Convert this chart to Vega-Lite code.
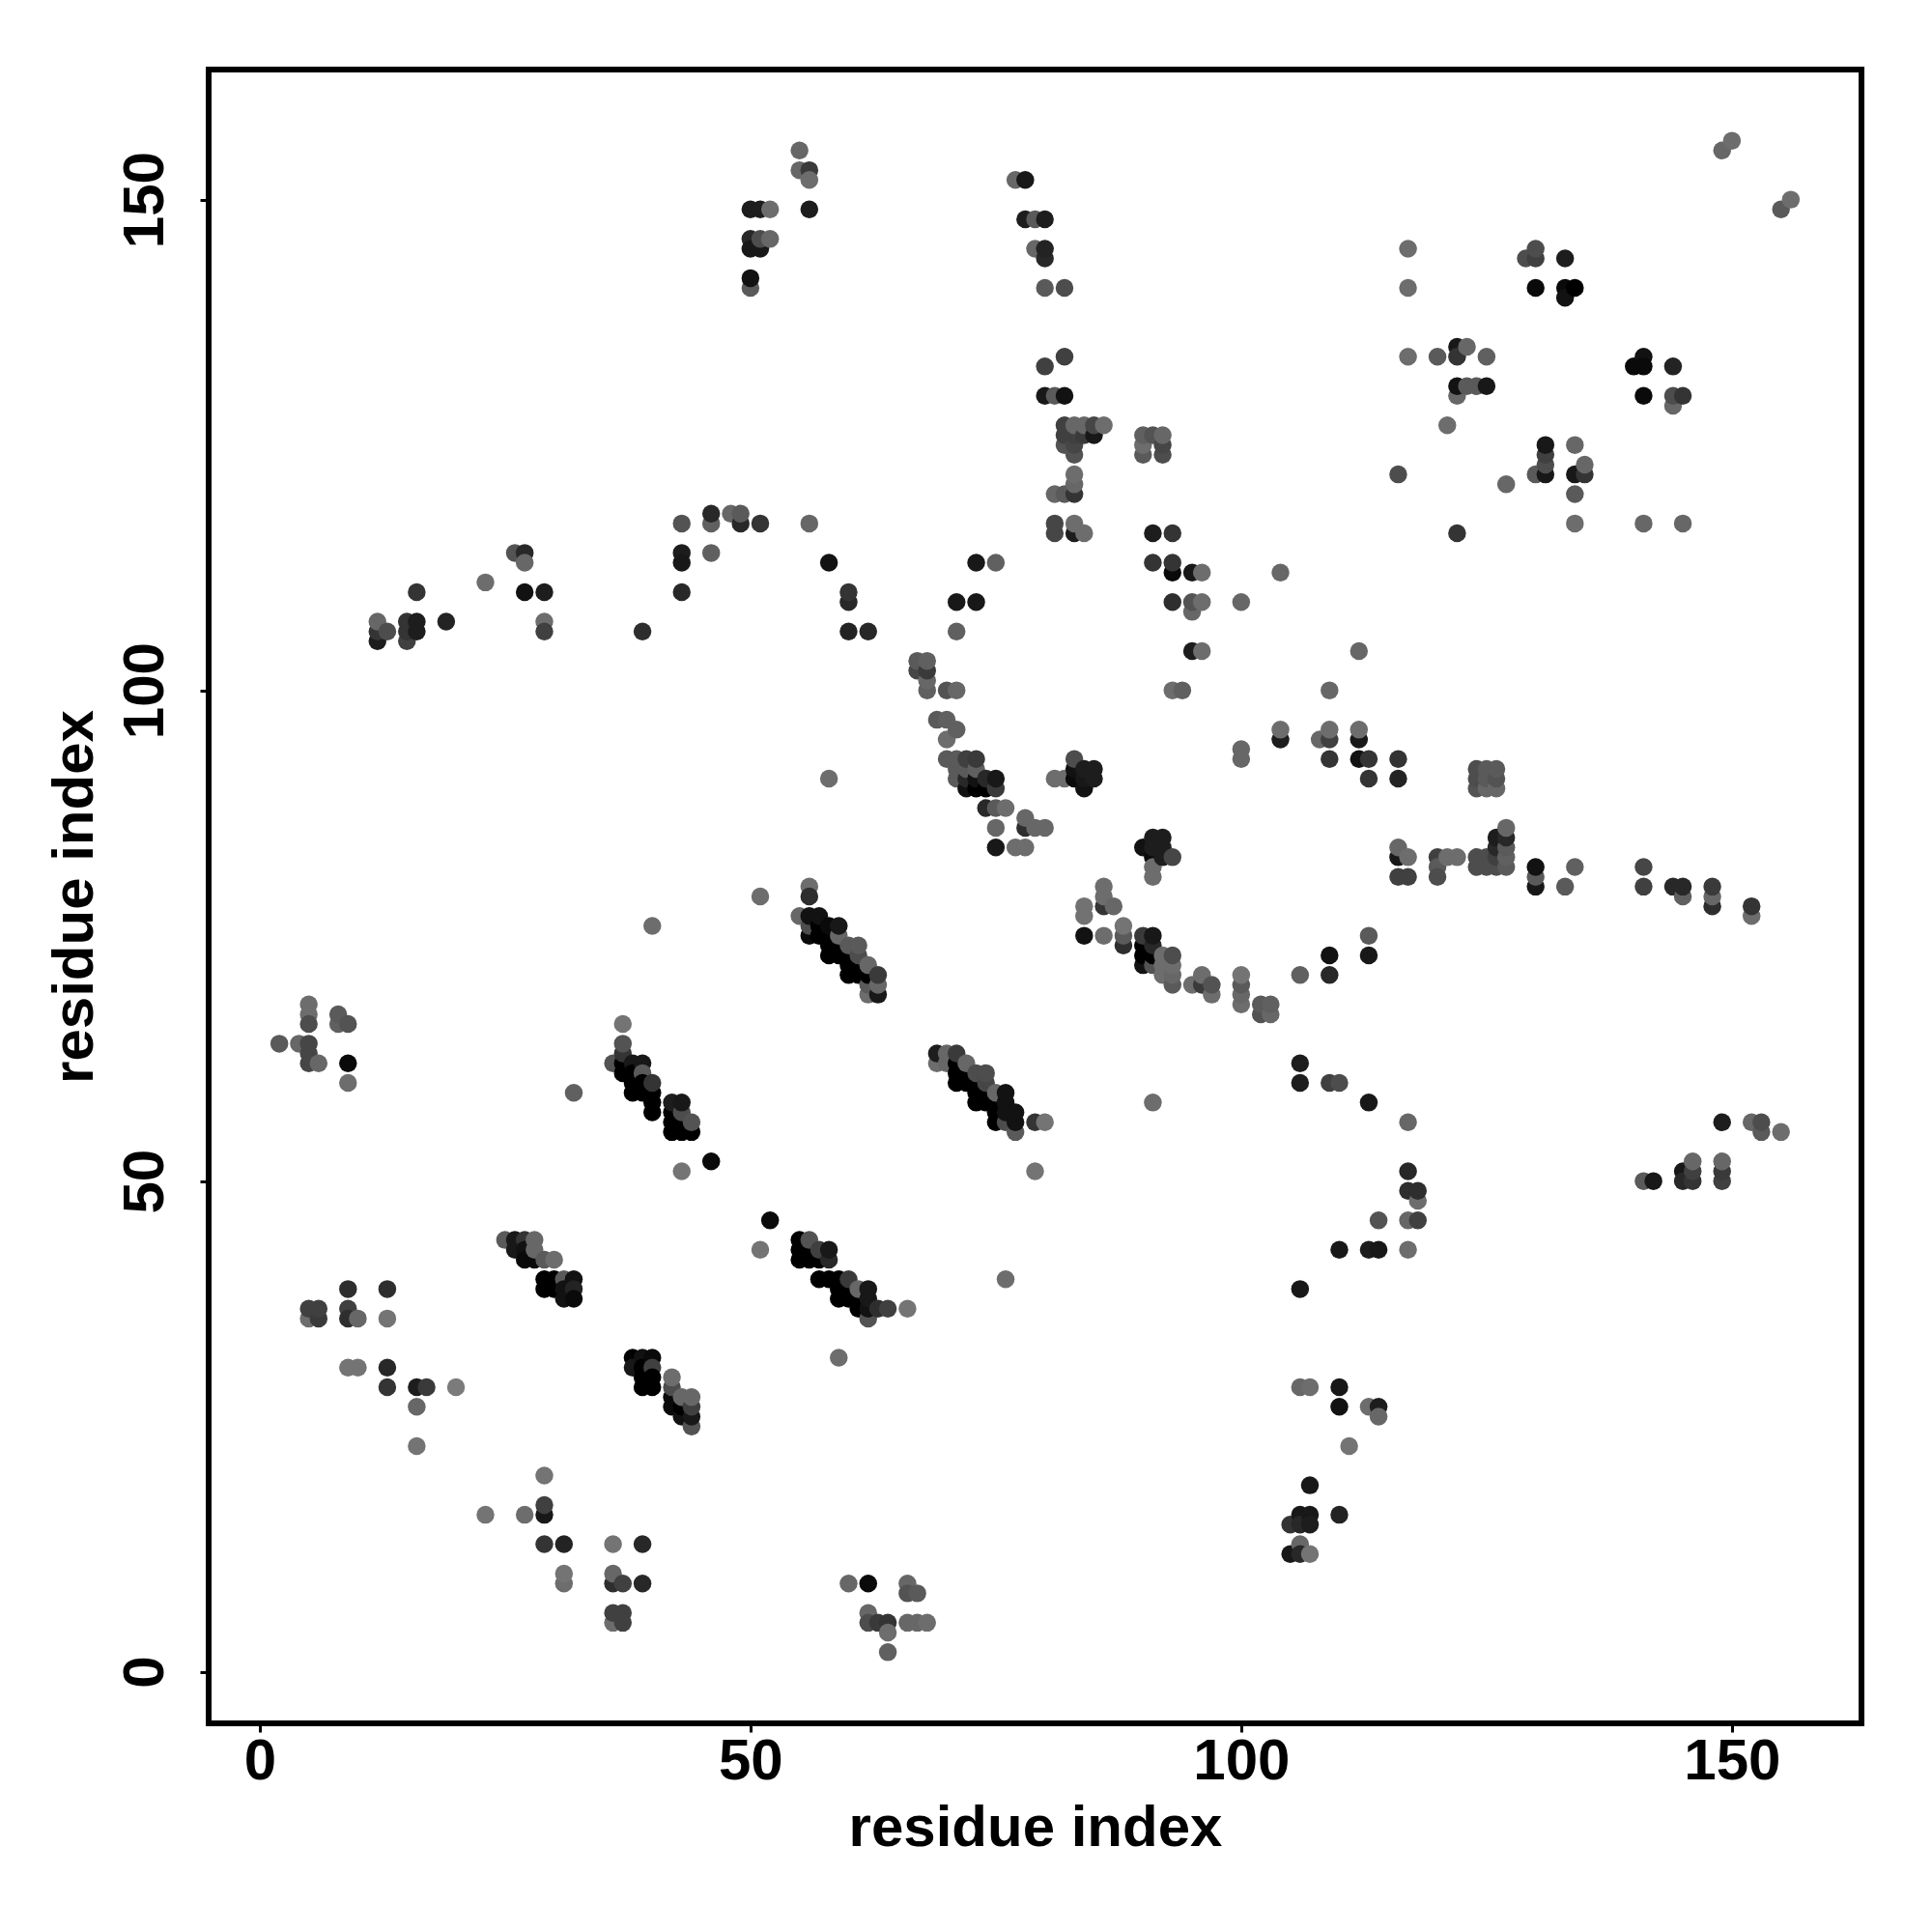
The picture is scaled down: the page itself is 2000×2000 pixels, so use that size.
{"$schema":"https://vega.github.io/schema/vega-lite/v6.json","width":1711,"height":1712,"autosize":{"type":"none"},"padding":{"left":216,"top":72,"right":73,"bottom":216},"background":"white","view":{"stroke":"black","strokeWidth":6,"fill":"white"},
"data":{"values":[
{"x":9,"y":39,"p":0.65},{"x":13,"y":39,"p":0.65},{"x":5,"y":36,"p":0.15},{"x":5,"y":37,"p":0.5},{"x":6,"y":36,"p":0.55},{"x":6,"y":37,"p":0.5},{"x":9,"y":37,"p":0.5},{"x":9,"y":36,"p":0.65},{"x":10,"y":36,"p":0.2},{"x":13,"y":36,"p":0.1},{"x":9,"y":31,"p":0.1},{"x":10,"y":31,"p":0.1},{"x":13,"y":31,"p":0.7},{"x":13,"y":29,"p":0.6},{"x":16,"y":29,"p":0.8},{"x":17,"y":29,"p":0.55},{"x":20,"y":29,"p":0.05},{"x":16,"y":27,"p":0.2},{"x":16,"y":23,"p":0.1},
{"x":25,"y":44,"p":0.3},{"x":26,"y":44,"p":0.85},{"x":26,"y":43,"p":0.85},{"x":27,"y":44,"p":0.6},{"x":27,"y":43,"p":0.9},{"x":27,"y":42,"p":0.95},{"x":28,"y":42,"p":0.95},{"x":28,"y":43,"p":0.2},{"x":28,"y":44,"p":0.2},{"x":29,"y":42,"p":0.3},{"x":30,"y":42,"p":0.15},
{"x":29,"y":40,"p":1},{"x":30,"y":40,"p":1},{"x":31,"y":40,"p":0.3},{"x":32,"y":40,"p":0.9},{"x":29,"y":39,"p":1},{"x":30,"y":39,"p":1},{"x":31,"y":39,"p":0.9},{"x":32,"y":39,"p":0.75},{"x":31,"y":38,"p":0.9},{"x":32,"y":38,"p":0.95},
{"x":38,"y":32,"p":1},{"x":39,"y":32,"p":0.9},{"x":40,"y":32,"p":0.95},{"x":38,"y":31,"p":0.85},{"x":39,"y":31,"p":1},{"x":40,"y":31,"p":0.5},{"x":39,"y":30,"p":1},{"x":40,"y":30,"p":1},{"x":39,"y":29,"p":1},{"x":40,"y":29,"p":1},
{"x":42,"y":27,"p":0.95},{"x":42,"y":28,"p":0.95},{"x":42,"y":29,"p":0.4},{"x":42,"y":30,"p":0.15},{"x":43,"y":26,"p":0.9},{"x":43,"y":27,"p":1},{"x":43,"y":28,"p":0.2},{"x":44,"y":25,"p":0.35},{"x":44,"y":26,"p":0.85},{"x":44,"y":27,"p":0.5},{"x":44,"y":28,"p":0.2},
{"x":29,"y":20,"p":0.1},{"x":29,"y":16,"p":0.85},{"x":29,"y":17,"p":0.5},{"x":23,"y":16,"p":0.1},{"x":27,"y":16,"p":0.15},{"x":29,"y":13,"p":0.6},{"x":31,"y":13,"p":0.75},{"x":36,"y":13,"p":0.1},{"x":39,"y":13,"p":0.7},{"x":31,"y":9,"p":0.15},{"x":31,"y":10,"p":0.1},{"x":36,"y":9,"p":0.65},{"x":36,"y":10,"p":0.2},{"x":37,"y":9,"p":0.5},{"x":39,"y":9,"p":0.7},{"x":36,"y":5,"p":0.15},{"x":36,"y":6,"p":0.5},{"x":37,"y":6,"p":0.5},{"x":37,"y":5,"p":0.5},
{"x":37,"y":66,"p":0.1},{"x":37,"y":61,"p":1},{"x":37,"y":62,"p":1},{"x":37,"y":63,"p":0.6},{"x":37,"y":64,"p":0.35},{"x":36,"y":62,"p":0.35},{"x":38,"y":62,"p":0.85},{"x":39,"y":62,"p":0.85},{"x":39,"y":61,"p":0.3},{"x":38,"y":61,"p":1},{"x":38,"y":60,"p":1},{"x":38,"y":59,"p":1},{"x":39,"y":60,"p":1},{"x":39,"y":59,"p":1},{"x":40,"y":57,"p":1},{"x":40,"y":58,"p":1},{"x":40,"y":59,"p":1},{"x":40,"y":60,"p":0.6},{"x":32,"y":59,"p":0.25},
{"x":42,"y":55,"p":1},{"x":42,"y":56,"p":1},{"x":42,"y":57,"p":1},{"x":42,"y":58,"p":0.8},{"x":43,"y":55,"p":1},{"x":43,"y":56,"p":1},{"x":43,"y":57,"p":0.4},{"x":43,"y":58,"p":0.85},{"x":44,"y":55,"p":1},{"x":44,"y":56,"p":0.35},{"x":46,"y":52,"p":0.95},{"x":43,"y":51,"p":0.1},{"x":52,"y":46,"p":0.95},{"x":51,"y":43,"p":0.1},
{"x":55,"y":42,"p":1},{"x":55,"y":43,"p":1},{"x":55,"y":44,"p":1},{"x":56,"y":42,"p":1},{"x":56,"y":43,"p":1},{"x":56,"y":44,"p":0.35},{"x":57,"y":42,"p":1},{"x":57,"y":43,"p":0.5},{"x":58,"y":42,"p":0.7},{"x":58,"y":43,"p":0.85},
{"x":57,"y":40,"p":1},{"x":58,"y":40,"p":1},{"x":59,"y":38,"p":1},{"x":59,"y":39,"p":1},{"x":59,"y":40,"p":1},{"x":60,"y":38,"p":1},{"x":60,"y":39,"p":1},{"x":60,"y":40,"p":0.55},{"x":61,"y":37,"p":1},{"x":61,"y":38,"p":1},{"x":61,"y":39,"p":0.2},{"x":62,"y":36,"p":0.35},{"x":62,"y":37,"p":0.9},{"x":62,"y":38,"p":0.85},{"x":62,"y":39,"p":0.85},{"x":63,"y":37,"p":0.65},{"x":64,"y":37,"p":0.5},{"x":66,"y":37,"p":0.1},{"x":59,"y":32,"p":0.15},
{"x":58,"y":91,"p":0.15},{"x":51,"y":79,"p":0.15},{"x":56,"y":80,"p":0.15},{"x":56,"y":79,"p":0.65},{"x":55,"y":77,"p":0.2},{"x":56,"y":75,"p":0.95},{"x":56,"y":76,"p":0.4},{"x":56,"y":77,"p":0.9},{"x":57,"y":75,"p":1},{"x":57,"y":76,"p":1},{"x":57,"y":77,"p":0.9},{"x":58,"y":73,"p":1},{"x":58,"y":74,"p":1},{"x":58,"y":75,"p":1},{"x":58,"y":76,"p":0.95},{"x":59,"y":73,"p":1},{"x":59,"y":74,"p":1},{"x":59,"y":75,"p":0.2},{"x":59,"y":76,"p":0.85},{"x":60,"y":71,"p":1},{"x":60,"y":72,"p":1},{"x":60,"y":73,"p":1},{"x":60,"y":74,"p":0.3},{"x":61,"y":71,"p":1},{"x":61,"y":72,"p":1},{"x":61,"y":73,"p":0.4},{"x":61,"y":74,"p":0.3},{"x":62,"y":69,"p":0.15},{"x":62,"y":70,"p":0.3},{"x":62,"y":71,"p":1},{"x":62,"y":72,"p":0.2},{"x":63,"y":69,"p":0.85},{"x":63,"y":70,"p":0.2},{"x":63,"y":71,"p":0.55},
{"x":69,"y":62,"p":0.15},{"x":69,"y":63,"p":0.8},{"x":70,"y":62,"p":0.2},{"x":70,"y":63,"p":0.2},{"x":71,"y":60,"p":1},{"x":71,"y":61,"p":1},{"x":71,"y":62,"p":1},{"x":71,"y":63,"p":0.55},{"x":72,"y":60,"p":1},{"x":72,"y":61,"p":1},{"x":72,"y":62,"p":0.2},{"x":73,"y":58,"p":1},{"x":73,"y":59,"p":1},{"x":73,"y":60,"p":1},{"x":73,"y":61,"p":0.4},{"x":74,"y":58,"p":1},{"x":74,"y":59,"p":1},{"x":74,"y":60,"p":0.45},{"x":74,"y":61,"p":0.4},{"x":75,"y":56,"p":1},{"x":75,"y":57,"p":1},{"x":75,"y":58,"p":1},{"x":75,"y":59,"p":0.2},{"x":76,"y":56,"p":0.4},{"x":76,"y":57,"p":0.9},{"x":76,"y":58,"p":0.9},{"x":76,"y":59,"p":0.9},{"x":77,"y":55,"p":0.3},{"x":77,"y":56,"p":0.9},{"x":77,"y":57,"p":0.9},{"x":79,"y":56,"p":0.6},{"x":80,"y":56,"p":0.1},{"x":79,"y":51,"p":0.1},{"x":91,"y":58,"p":0.15},
{"x":84,"y":75,"p":0.9},{"x":86,"y":75,"p":0.15},{"x":84,"y":78,"p":0.12},{"x":84,"y":77,"p":0.12},{"x":86,"y":78,"p":0.6},{"x":86,"y":79,"p":0.15},{"x":86,"y":80,"p":0.15},{"x":87,"y":78,"p":0.2},{"x":88,"y":74,"p":0.65},{"x":88,"y":75,"p":0.3},{"x":88,"y":76,"p":0.1},
{"x":90,"y":72,"p":0.9},{"x":90,"y":73,"p":1},{"x":90,"y":74,"p":1},{"x":90,"y":75,"p":0.55},{"x":91,"y":72,"p":0.35},{"x":91,"y":73,"p":1},{"x":91,"y":74,"p":0.7},{"x":91,"y":75,"p":0.85},{"x":92,"y":71,"p":0.15},{"x":92,"y":72,"p":0.15},{"x":92,"y":73,"p":0.15},{"x":93,"y":70,"p":0.3},{"x":93,"y":71,"p":0.2},{"x":93,"y":72,"p":0.15},{"x":93,"y":73,"p":0.4},{"x":95,"y":70,"p":0.15},{"x":96,"y":70,"p":0.55},{"x":96,"y":71,"p":0.15},{"x":97,"y":69,"p":0.15},{"x":97,"y":70,"p":0.35},{"x":100,"y":68,"p":0.15},{"x":100,"y":69,"p":0.2},{"x":100,"y":70,"p":0.3},{"x":100,"y":71,"p":0.1},{"x":102,"y":67,"p":0.35},{"x":102,"y":68,"p":0.3},{"x":103,"y":67,"p":0.2},{"x":103,"y":68,"p":0.25},
{"x":72,"y":90,"p":0.9},{"x":73,"y":90,"p":1},{"x":74,"y":90,"p":1},{"x":75,"y":90,"p":0.55},{"x":74,"y":91,"p":0.7},{"x":75,"y":91,"p":0.85},{"x":73,"y":91,"p":0.9},{"x":72,"y":91,"p":0.7},{"x":71,"y":91,"p":0.3},{"x":74,"y":88,"p":0.7},{"x":75,"y":88,"p":0.3},{"x":76,"y":88,"p":0.15},{"x":75,"y":86,"p":0.2},{"x":78,"y":86,"p":0.65},{"x":78,"y":87,"p":0.2},{"x":79,"y":86,"p":0.2},{"x":80,"y":86,"p":0.2},{"x":75,"y":84,"p":0.85},{"x":77,"y":84,"p":0.15},{"x":78,"y":84,"p":0.15},
{"x":80,"y":130,"p":0.85},{"x":81,"y":130,"p":0.3},{"x":82,"y":130,"p":0.9},{"x":82,"y":125,"p":0.35},{"x":82,"y":126,"p":0.5},{"x":82,"y":127,"p":0.5},{"x":83,"y":124,"p":0.35},{"x":83,"y":125,"p":0.45},{"x":83,"y":126,"p":0.5},{"x":83,"y":127,"p":0.2},{"x":84,"y":126,"p":0.55},{"x":84,"y":127,"p":0.2},{"x":85,"y":126,"p":0.85},{"x":85,"y":127,"p":0.45},{"x":86,"y":127,"p":0.15},
{"x":83,"y":120,"p":0.6},{"x":83,"y":121,"p":0.2},{"x":83,"y":122,"p":0.15},{"x":81,"y":120,"p":0.2},{"x":82,"y":120,"p":0.3},{"x":81,"y":116,"p":0.45},{"x":81,"y":117,"p":0.45},{"x":83,"y":116,"p":0.8},{"x":83,"y":117,"p":0.15},{"x":84,"y":116,"p":0.15},
{"x":90,"y":124,"p":0.3},{"x":90,"y":125,"p":0.15},{"x":90,"y":126,"p":0.25},{"x":91,"y":126,"p":0.35},{"x":92,"y":124,"p":0.4},{"x":92,"y":125,"p":0.45},{"x":92,"y":126,"p":0.2},{"x":91,"y":116,"p":0.8},{"x":93,"y":116,"p":0.6},{"x":91,"y":113,"p":0.6},{"x":93,"y":112,"p":0.95},{"x":93,"y":113,"p":0.6},{"x":95,"y":112,"p":0.85},{"x":96,"y":112,"p":0.15},{"x":93,"y":109,"p":0.65},{"x":95,"y":108,"p":0.2},{"x":95,"y":109,"p":0.35},{"x":96,"y":109,"p":0.15},{"x":100,"y":109,"p":0.2},{"x":104,"y":112,"p":0.2},{"x":95,"y":104,"p":0.8},{"x":96,"y":104,"p":0.15},{"x":112,"y":104,"p":0.2},{"x":93,"y":100,"p":0.15},{"x":94,"y":100,"p":0.25},{"x":109,"y":100,"p":0.2},{"x":73,"y":113,"p":0.85},{"x":75,"y":113,"p":0.25},{"x":73,"y":109,"p":0.85},{"x":71,"y":109,"p":0.85},{"x":71,"y":106,"p":0.25},{"x":116,"y":122,"p":0.4},{"x":121,"y":127,"p":0.15},
{"x":100,"y":94,"p":0.2},{"x":100,"y":93,"p":0.2},{"x":104,"y":95,"p":0.8},{"x":104,"y":96,"p":0.15},{"x":108,"y":95,"p":0.2},{"x":109,"y":95,"p":0.5},{"x":109,"y":96,"p":0.15},{"x":112,"y":95,"p":0.85},{"x":112,"y":96,"p":0.15},{"x":109,"y":93,"p":0.6},{"x":112,"y":93,"p":0.9},{"x":113,"y":93,"p":0.6},{"x":116,"y":93,"p":0.6},{"x":113,"y":91,"p":0.6},{"x":116,"y":91,"p":0.75},
{"x":81,"y":91,"p":0.15},{"x":82,"y":91,"p":0.15},{"x":83,"y":91,"p":0.95},{"x":83,"y":92,"p":0.9},{"x":83,"y":93,"p":0.4},{"x":84,"y":90,"p":0.9},{"x":84,"y":91,"p":0.85},{"x":84,"y":92,"p":0.8},{"x":85,"y":91,"p":0.8},{"x":85,"y":92,"p":0.8},
{"x":90,"y":84,"p":0.9},{"x":91,"y":83,"p":0.95},{"x":91,"y":84,"p":0.8},{"x":91,"y":85,"p":0.8},{"x":92,"y":83,"p":0.8},{"x":92,"y":84,"p":0.8},{"x":92,"y":85,"p":0.8},{"x":93,"y":83,"p":0.45},{"x":91,"y":82,"p":0.15},{"x":91,"y":81,"p":0.15},
{"x":116,"y":81,"p":0.5},{"x":117,"y":81,"p":0.5},{"x":116,"y":83,"p":0.85},{"x":116,"y":84,"p":0.2},{"x":117,"y":83,"p":0.15},{"x":120,"y":83,"p":0.5},{"x":120,"y":82,"p":0.3},{"x":120,"y":81,"p":0.4},{"x":121,"y":83,"p":0.15},{"x":122,"y":83,"p":0.15},{"x":124,"y":83,"p":0.4},{"x":124,"y":82,"p":0.4},{"x":125,"y":83,"p":0.4},{"x":125,"y":82,"p":0.4},{"x":126,"y":82,"p":0.4},{"x":126,"y":83,"p":0.5},{"x":126,"y":84,"p":0.7},{"x":126,"y":85,"p":0.8},{"x":127,"y":82,"p":0.3},{"x":127,"y":83,"p":0.25},{"x":127,"y":84,"p":0.3},{"x":127,"y":85,"p":0.7},{"x":127,"y":86,"p":0.2},
{"x":130,"y":80,"p":0.85},{"x":130,"y":81,"p":0.3},{"x":130,"y":82,"p":0.9},{"x":133,"y":80,"p":0.3},{"x":134,"y":82,"p":0.25},{"x":141,"y":82,"p":0.45},{"x":141,"y":80,"p":0.5},{"x":144,"y":80,"p":0.7},{"x":145,"y":79,"p":0.25},{"x":145,"y":80,"p":0.7},{"x":148,"y":78,"p":0.65},{"x":148,"y":79,"p":0.2},{"x":148,"y":80,"p":0.55},{"x":152,"y":77,"p":0.15},{"x":152,"y":78,"p":0.6},
{"x":124,"y":90,"p":0.35},{"x":124,"y":91,"p":0.4},{"x":124,"y":92,"p":0.4},{"x":125,"y":90,"p":0.2},{"x":125,"y":91,"p":0.3},{"x":125,"y":92,"p":0.3},{"x":126,"y":90,"p":0.2},{"x":126,"y":91,"p":0.35},{"x":126,"y":92,"p":0.3},
{"x":2,"y":64,"p":0.3},{"x":4,"y":64,"p":0.2},{"x":5,"y":68,"p":0.15},{"x":5,"y":67,"p":0.15},{"x":5,"y":66,"p":0.4},{"x":5,"y":64,"p":0.45},{"x":5,"y":63,"p":0.45},{"x":5,"y":62,"p":0.45},{"x":6,"y":62,"p":0.2},{"x":8,"y":66,"p":0.25},{"x":8,"y":67,"p":0.3},{"x":9,"y":66,"p":0.35},{"x":9,"y":62,"p":0.95},{"x":9,"y":60,"p":0.15},
{"x":40,"y":76,"p":0.15},{"x":76,"y":40,"p":0.15},
{"x":60,"y":9,"p":0.2},{"x":62,"y":9,"p":0.95},{"x":66,"y":9,"p":0.2},{"x":66,"y":8,"p":0.35},{"x":67,"y":8,"p":0.3},{"x":62,"y":6,"p":0.2},{"x":62,"y":5,"p":0.4},{"x":63,"y":5,"p":0.55},{"x":64,"y":5,"p":0.6},{"x":64,"y":4,"p":0.15},{"x":64,"y":2,"p":0.25},{"x":66,"y":5,"p":0.2},{"x":67,"y":5,"p":0.2},{"x":68,"y":5,"p":0.15},
{"x":106,"y":39,"p":0.85},{"x":106,"y":29,"p":0.2},{"x":107,"y":29,"p":0.15},{"x":110,"y":29,"p":0.85},{"x":110,"y":27,"p":0.9},{"x":113,"y":27,"p":0.15},{"x":114,"y":27,"p":0.8},{"x":114,"y":26,"p":0.2},{"x":111,"y":23,"p":0.1},{"x":107,"y":19,"p":0.85},{"x":106,"y":16,"p":0.85},{"x":107,"y":16,"p":0.85},{"x":105,"y":15,"p":0.6},{"x":106,"y":15,"p":0.7},{"x":107,"y":15,"p":0.8},{"x":110,"y":16,"p":0.75},{"x":106,"y":13,"p":0.2},{"x":105,"y":12,"p":0.85},{"x":106,"y":12,"p":0.7},{"x":107,"y":12,"p":0.1},
{"x":110,"y":43,"p":0.85},{"x":113,"y":43,"p":0.8},{"x":114,"y":43,"p":0.85},{"x":114,"y":46,"p":0.35},{"x":117,"y":43,"p":0.15},{"x":117,"y":46,"p":0.2},{"x":118,"y":46,"p":0.5},{"x":118,"y":48,"p":0.15},{"x":117,"y":49,"p":0.65},{"x":118,"y":49,"p":0.65},{"x":117,"y":51,"p":0.7},{"x":117,"y":56,"p":0.2},{"x":113,"y":58,"p":0.85},{"x":109,"y":60,"p":0.5},{"x":110,"y":60,"p":0.4},{"x":106,"y":60,"p":0.8},{"x":106,"y":62,"p":0.8},
{"x":141,"y":50,"p":0.3},{"x":142,"y":50,"p":0.85},{"x":145,"y":51,"p":0.85},{"x":145,"y":50,"p":0.7},{"x":146,"y":50,"p":0.6},{"x":146,"y":51,"p":0.5},{"x":146,"y":52,"p":0.2},{"x":149,"y":50,"p":0.5},{"x":149,"y":51,"p":0.55},{"x":149,"y":52,"p":0.2},{"x":149,"y":56,"p":0.8},{"x":152,"y":56,"p":0.2},{"x":153,"y":55,"p":0.3},{"x":153,"y":56,"p":0.4},{"x":155,"y":55,"p":0.15},
{"x":106,"y":71,"p":0.25},{"x":109,"y":71,"p":0.7},{"x":109,"y":73,"p":0.9},{"x":113,"y":73,"p":0.85},{"x":113,"y":75,"p":0.3},
{"x":117,"y":145,"p":0.15},{"x":117,"y":141,"p":0.15},{"x":117,"y":134,"p":0.15},{"x":120,"y":134,"p":0.3},{"x":122,"y":135,"p":0.85},{"x":123,"y":135,"p":0.2},{"x":122,"y":134,"p":0.6},{"x":125,"y":134,"p":0.25},{"x":122,"y":130,"p":0.2},{"x":122,"y":131,"p":0.9},{"x":123,"y":131,"p":0.3},{"x":124,"y":131,"p":0.3},{"x":125,"y":131,"p":0.85},{"x":122,"y":116,"p":0.6},{"x":127,"y":121,"p":0.2},
{"x":130,"y":122,"p":0.3},{"x":131,"y":122,"p":0.85},{"x":131,"y":123,"p":0.4},{"x":131,"y":124,"p":0.5},{"x":131,"y":125,"p":0.85},{"x":134,"y":125,"p":0.2},{"x":134,"y":122,"p":0.85},{"x":135,"y":122,"p":0.6},{"x":135,"y":123,"p":0.2},{"x":134,"y":120,"p":0.3},{"x":134,"y":117,"p":0.15},{"x":141,"y":117,"p":0.2},{"x":145,"y":117,"p":0.2},
{"x":129,"y":144,"p":0.4},{"x":130,"y":144,"p":0.5},{"x":130,"y":145,"p":0.4},{"x":130,"y":141,"p":0.95},{"x":133,"y":144,"p":0.8},{"x":133,"y":141,"p":0.95},{"x":133,"y":140,"p":0.9},{"x":134,"y":141,"p":1},
{"x":140,"y":133,"p":0.95},{"x":141,"y":134,"p":0.9},{"x":141,"y":133,"p":0.95},{"x":141,"y":130,"p":0.95},{"x":144,"y":133,"p":0.75},{"x":144,"y":129,"p":0.2},{"x":144,"y":130,"p":0.4},{"x":145,"y":130,"p":0.6},
{"x":149,"y":155,"p":0.2},{"x":150,"y":156,"p":0.15},{"x":155,"y":149,"p":0.3},{"x":156,"y":150,"p":0.15},
{"x":55,"y":155,"p":0.2},{"x":55,"y":153,"p":0.2},{"x":56,"y":153,"p":0.55},{"x":56,"y":152,"p":0.15},{"x":56,"y":149,"p":0.8},{"x":50,"y":149,"p":0.8},{"x":51,"y":149,"p":0.8},{"x":52,"y":149,"p":0.15},{"x":50,"y":146,"p":0.7},{"x":50,"y":145,"p":0.85},{"x":51,"y":145,"p":0.85},{"x":51,"y":146,"p":0.4},{"x":52,"y":146,"p":0.2},{"x":50,"y":141,"p":0.3},{"x":50,"y":142,"p":0.9},
{"x":56,"y":117,"p":0.2},{"x":46,"y":117,"p":0.25},{"x":46,"y":118,"p":0.7},{"x":48,"y":118,"p":0.2},{"x":49,"y":117,"p":0.7},{"x":49,"y":118,"p":0.3},{"x":51,"y":117,"p":0.6},{"x":43,"y":117,"p":0.35},{"x":43,"y":114,"p":0.8},{"x":43,"y":113,"p":0.85},{"x":46,"y":114,"p":0.25},{"x":43,"y":110,"p":0.7},{"x":39,"y":106,"p":0.65},
{"x":26,"y":114,"p":0.35},{"x":27,"y":114,"p":0.7},{"x":27,"y":113,"p":0.2},{"x":23,"y":111,"p":0.15},{"x":27,"y":110,"p":0.9},{"x":29,"y":110,"p":0.8},{"x":29,"y":107,"p":0.15},{"x":29,"y":106,"p":0.5},
{"x":16,"y":110,"p":0.6},{"x":12,"y":105,"p":0.8},{"x":12,"y":106,"p":0.6},{"x":12,"y":107,"p":0.2},{"x":13,"y":106,"p":0.4},{"x":15,"y":105,"p":0.5},{"x":15,"y":106,"p":0.6},{"x":15,"y":107,"p":0.6},{"x":16,"y":106,"p":0.8},{"x":16,"y":107,"p":0.8},{"x":19,"y":107,"p":0.75},
{"x":58,"y":113,"p":0.9},{"x":60,"y":109,"p":0.7},{"x":60,"y":110,"p":0.6},{"x":60,"y":106,"p":0.75},{"x":62,"y":106,"p":0.7},
{"x":67,"y":102,"p":0.45},{"x":67,"y":103,"p":0.3},{"x":68,"y":100,"p":0.25},{"x":68,"y":101,"p":0.2},{"x":68,"y":102,"p":0.55},{"x":68,"y":103,"p":0.25},{"x":70,"y":100,"p":0.35},{"x":71,"y":100,"p":0.2},{"x":69,"y":97,"p":0.3},{"x":70,"y":97,"p":0.25},{"x":71,"y":96,"p":0.25},{"x":70,"y":95,"p":0.15},{"x":70,"y":93,"p":0.3},{"x":71,"y":92,"p":0.3},{"x":71,"y":93,"p":0.3},{"x":72,"y":92,"p":0.3},{"x":72,"y":93,"p":0.5},{"x":73,"y":92,"p":0.25},{"x":73,"y":93,"p":0.55},
{"x":80,"y":133,"p":0.5},{"x":82,"y":134,"p":0.5},
{"x":77,"y":152,"p":0.2},{"x":78,"y":152,"p":0.85},{"x":78,"y":148,"p":0.8},{"x":79,"y":148,"p":0.3},{"x":80,"y":148,"p":0.8},{"x":79,"y":145,"p":0.2},{"x":80,"y":144,"p":0.7},{"x":80,"y":145,"p":0.75},{"x":80,"y":141,"p":0.3},{"x":82,"y":141,"p":0.4}
]},
"mark":{"type":"point","filled":true,"shape":"circle","size":342,"opacity":1,"strokeWidth":0},
"encoding":{
"x":{"field":"x","type":"quantitative","scale":{"domain":[-5.2,163.2],"nice":false,"zero":false},"axis":{"title":"residue index","values":[0,50,100,150],"grid":false,"domain":false,"tickColor":"black","tickWidth":3,"tickSize":9,"labelFont":"Liberation Sans","labelFontWeight":"bold","labelFontSize":60,"labelColor":"black","labelPadding":1,"titleFont":"Liberation Sans","titleFontWeight":"bold","titleFontSize":60,"titleColor":"black","titlePadding":10}},
"y":{"field":"y","type":"quantitative","scale":{"domain":[-5.25,163.25],"nice":false,"zero":false},"axis":{"title":"residue index","values":[0,50,100,150],"grid":false,"domain":false,"tickColor":"black","tickWidth":3,"tickSize":9,"labelFont":"Liberation Sans","labelFontWeight":"bold","labelFontSize":60,"labelColor":"black","labelAngle":-90,"labelAlign":"center","labelBaseline":"bottom","labelPadding":26,"titleFont":"Liberation Sans","titleFontWeight":"bold","titleFontSize":60,"titleColor":"black","titlePadding":12}},
"color":{"field":"p","type":"quantitative","scale":{"domain":[0,1],"range":["#828282","#000000"]},"legend":null},
"order":{"field":"x","type":"quantitative"}
}}
